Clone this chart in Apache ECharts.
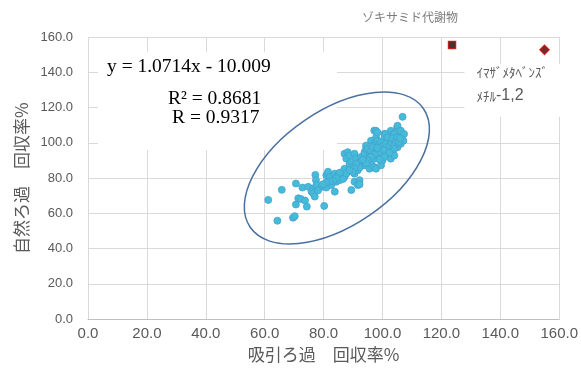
<!DOCTYPE html>
<html>
<head>
<meta charset="utf-8">
<script src="https://cdn.jsdelivr.net/npm/echarts@6/dist/echarts.min.js"></script>
<style>html,body{margin:0;padding:0;background:#fff;}#c{width:581px;height:368px;}</style>
</head>
<body>
<div id="c"></div>
<script>
var xTicks = [0, 20, 40, 60, 80, 100, 120, 140, 160];
var yTicks = [0, 20, 40, 60, 80, 100, 120, 140, 160];
var xName = '吸引ろ過　回収率%';
var yName = '自然ろ過　回収率%';
var equationText = ['y = 1.0714x - 10.009', 'R² = 0.8681', 'R = 0.9317'];
var mainPoints = [
[61.2,67.6],[64.3,55.8],[65.8,73.3],[69.6,57.5],[70.2,58.4],[70.6,65.0],[70.6,76.9],[71.4,68.5],[72.3,68.1],[72.8,74.6],
[73.7,67.2],[74.3,63.8],[74.8,75.0],[76.5,74.1],[75.9,72.3],[76.5,71.3],[77.0,69.5],[77.2,81.8],[77.4,78.8],[77.6,76.2],
[79.3,75.0],[80.2,64.2],[80.9,74.6],[80.9,81.6],[81.5,82.5],[81.5,83.6],[82.1,80.7],[82.6,76.0],[83.8,82.5],[83.8,72.3],
[84.3,77.9],[84.9,80.7],[84.9,81.6],[85.4,78.8],[86.0,81.6],[86.6,83.5],[87.1,80.7],[87.1,85.3],[87.7,82.5],[87.1,93.8],
[87.7,91.0],[88.2,94.7],[88.8,88.2],[88.8,92.8],[89.4,89.1],[89.4,73.2],[89.9,86.2],[90.5,82.5],[90.5,77.9],[90.5,93.8],
[91.0,91.0],[91.6,84.4],[91.6,76.0],[92.2,78.8],[92.2,76.4],[92.2,89.1],[92.7,91.9],[93.3,87.2],[93.9,94.7],[93.9,93.8],
[93.9,87.2],[94.4,96.6],[94.4,98.4],[94.4,90.0],[95.0,96.6],[95.6,92.8],[95.6,91.9],[95.6,85.3],
[96.1,101.2],[96.1,95.6],[96.1,88.2],[97.2,99.4],[97.2,98.4],[97.2,91.0],[97.2,86.3],[97.2,106.9],[97.8,103.1],[97.8,106.8],
[97.8,85.3],[98.3,105.9],[98.3,101.2],[98.3,92.8],[99.5,97.5],[99.5,87.2],[100.0,90.0],[100.6,105.0],[100.6,102.2],[101.1,105.0],
[101.1,93.8],[101.7,96.6],[102.3,101.2],[102.8,106.8],[102.8,104.1],[102.8,91.0],[103.4,95.6],[103.9,105.0],[104.0,92.8],[104.0,105.0],
[105.0,108.8],[105.1,109.7],[105.1,97.5],[105.7,104.1],[106.2,106.9],[106.2,99.4],[106.8,114.7],[107.3,105.0],[107.1,101.2],
[96.7,97.5],[97.8,95.0],[98.9,99.0],[99.5,100.5],[99.0,94.5],[100.0,98.0],[100.6,96.0],[101.1,99.5],[101.7,103.0],[102.3,98.5],
[103.0,100.0],[103.4,102.5],[104.0,98.5],[104.5,101.0],[105.0,103.0],[105.6,100.5],[106.0,102.5],[103.9,96.5],[102.3,94.5],[100.6,92.0],
[99.0,90.5],[98.3,97.0],[97.2,93.5],[96.1,92.0],[95.0,90.0],[94.4,88.5],[93.3,90.5],[92.2,86.0],[91.0,88.0],[90.5,85.5],
[89.9,83.5],[88.8,84.5],[86.6,79.5],[85.4,83.0],[84.3,80.0],[83.2,78.5],[82.1,78.0],[80.9,77.5],[79.8,76.5],[78.1,73.0]
];
var zoxamidePoint = [[123.6, 155.5]];
var zoxamideLabel = 'ゾキサミド代謝物';
var imazaPoint = [[155.0, 152.7]];
var imazaLabel1 = 'ｲﾏｻﾞﾒﾀﾍﾞﾝｽﾞ';
var imazaLabel2a = 'ﾒﾁﾙ';
var imazaLabel2b = '-1,2';
var ellipseCenter = [84.5, 85.7];

var chart = echarts.init(document.getElementById('c'), null, {renderer: 'canvas'});
var gray = '#595959';
var option = {
  animation: false,
  backgroundColor: '#fff',
  grid: {left: 88, right: 18, top: 37, bottom: 46},
  xAxis: {
    type: 'value', min: xTicks[0], max: xTicks[xTicks.length - 1], interval: 20,
    name: xName, nameLocation: 'middle', nameGap: 25,
    nameTextStyle: {color: gray, fontSize: 17, fontFamily: 'Noto Sans CJK JP'},
    axisLine: {show: true, lineStyle: {color: '#bfbfbf', width: 1}},
    axisTick: {show: false},
    axisLabel: {color: gray, fontSize: 15, fontFamily: 'Liberation Sans', margin: 7,
      formatter: function (v) { return v.toFixed(1); }},
    splitLine: {show: true, lineStyle: {color: '#d9d9d9', width: 1}}
  },
  yAxis: {
    type: 'value', min: yTicks[0], max: yTicks[yTicks.length - 1], interval: 20,
    name: yName, nameLocation: 'middle', nameGap: 56, nameRotate: 90,
    nameTextStyle: {color: gray, fontSize: 17, fontFamily: 'Noto Sans CJK JP'},
    axisLine: {show: false},
    axisTick: {show: false},
    axisLabel: {color: gray, fontSize: 13, fontFamily: 'Liberation Sans', margin: 15,
      formatter: function (v) { return v.toFixed(1); }},
    splitLine: {show: true, lineStyle: {color: '#d9d9d9', width: 1}}
  },
  series: [
    {
      type: 'scatter', data: mainPoints, symbol: 'circle', symbolSize: 7, z: 3,
      itemStyle: {color: '#43bcd8', borderColor: '#4a9fd2', borderWidth: 0.8, opacity: 1}
    },
    {
      type: 'scatter', data: zoxamidePoint, symbol: 'rect', symbolSize: 7, z: 4,
      itemStyle: {color: '#1a0000', borderColor: '#c00000', borderWidth: 1.5},
      label: {show: true, position: 'inside', offset: [-42, -27], formatter: zoxamideLabel,
        color: gray, fontSize: 12, fontFamily: 'Noto Sans CJK JP'}
    },
    {
      type: 'scatter', data: imazaPoint, symbol: 'diamond', symbolSize: 9, z: 4,
      itemStyle: {color: '#3a0000', borderColor: '#d00000', borderWidth: 1.5}
    }
  ]
};
chart.setOption(option);

var c = chart.convertToPixel({gridIndex: 0}, ellipseCenter);
var ip = chart.convertToPixel({gridIndex: 0}, imazaPoint[0]);
chart.setOption({
  graphic: [
    {type: 'rect', z: 1, shape: {x: 98, y: 52, width: 239, height: 98}, style: {fill: '#fff'}, silent: true},
    {type: 'rect', z: 1, shape: {x: ip[0] - 80, y: ip[1] + 14, width: 110, height: 53}, style: {fill: '#fff'}, silent: true},
    {type: 'ellipse', z: 5, x: c[0], y: c[1], rotation: 0.60,
      shape: {cx: 0, cy: 0, rx: 105, ry: 57.5},
      style: {fill: null, stroke: '#4a70a0', lineWidth: 1.5}, silent: true},
    {type: 'text', z: 6, x: 107, y: 67, style: {text: equationText[0], fill: '#000', font: '19.5px "Liberation Serif"', verticalAlign: 'middle'}},
    {type: 'text', z: 6, x: 168, y: 99, style: {text: equationText[1], fill: '#000', font: '19.5px "Liberation Serif"', verticalAlign: 'middle'}},
    {type: 'text', z: 6, x: 172, y: 118, style: {text: equationText[2], fill: '#000', font: '19.5px "Liberation Serif"', verticalAlign: 'middle'}},
    {type: 'text', z: 6, x: ip[0] - 68, y: ip[1] + 22, style: {text: imazaLabel1, fill: gray, font: '13px "Noto Sans CJK JP"', verticalAlign: 'middle'}},
    {type: 'text', z: 6, x: ip[0] - 68, y: ip[1] + 46, style: {
      text: '{a|' + imazaLabel2a + '}{b|' + imazaLabel2b + '}',
      verticalAlign: 'middle',
      rich: {a: {fill: gray, font: '13px "Noto Sans CJK JP"'}, b: {fill: gray, font: '16px "Liberation Sans"'}}
    }}
  ]
});
</script>
</body>
</html>
